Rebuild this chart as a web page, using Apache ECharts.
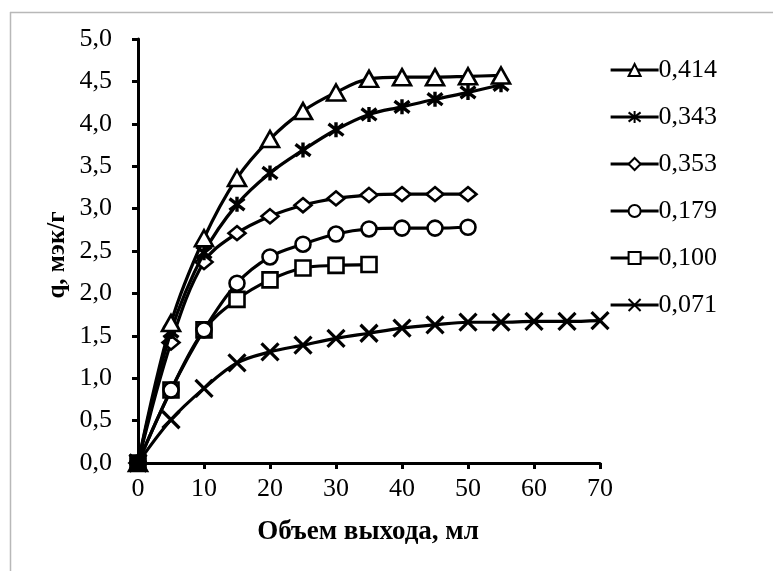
<!DOCTYPE html>
<html>
<head>
<meta charset="utf-8">
<script src="https://cdn.jsdelivr.net/npm/echarts@6/dist/echarts.min.js"></script>
<style>
html,body{margin:0;padding:0;background:#fff;}
#chart{width:773px;height:571px;}
</style>
</head>
<body>
<div id="chart"></div>
<script>
const xValues = [0,5,10,15,20,25,30,35,40,45,50,55,60,65,70];
const seriesNames = ['0,414','0,343','0,353','0,179','0,100','0,071'];
const s414 = [0,1.65,2.65,3.36,3.82,4.15,4.37,4.53,4.55,4.55,4.56,4.57];
const s343 = [0,1.55,2.48,3.05,3.42,3.69,3.93,4.11,4.20,4.29,4.37,4.46];
const s353 = [0,1.42,2.37,2.71,2.91,3.04,3.12,3.16,3.17,3.17,3.17];
const s179 = [0,0.86,1.57,2.12,2.43,2.58,2.70,2.76,2.77,2.77,2.78];
const s100 = [0,0.86,1.57,1.93,2.16,2.30,2.33,2.34];
const s071 = [0,0.51,0.88,1.18,1.31,1.39,1.47,1.53,1.59,1.63,1.66,1.66,1.67,1.67,1.68];
const xTitle = 'Объем выхода, мл';
const yTitle = 'q, мэк/г';

const FONT = "'Liberation Serif','Times New Roman',serif";
const xPath = 'path://M0 0L10 10M10 0L0 10';
const starPath = 'path://M0 0L10 10M10 0L0 10M5 -1.5L5 11.5';

const seriesData = [s414,s343,s353,s179,s100,s071];
const symbols = ['triangle', starPath, 'diamond', 'circle', 'rect', xPath];
const sizes = [[18,16],15,[17,14],15,[15,15],17];
const borderW = [2.6,3.4,2.6,2.6,2.6,3.2];

const series = seriesData.map((vals, i) => ({
  name: seriesNames[i],
  type: 'line',
  smooth: 0.35,
  data: vals.map((v, j) => j === 0
    ? { value: [xValues[j], v], itemStyle: { color: '#000' } }
    : [xValues[j], v]),
  symbol: symbols[i],
  symbolSize: sizes[i],
  showAllSymbol: true,
  lineStyle: { color: '#000', width: 3.2 },
  itemStyle: { color: '#fff', borderColor: '#000', borderWidth: borderW[i] },
  emphasis: { disabled: true },
  z: 10 - i
}));

const chart = echarts.init(document.getElementById('chart'), null, { renderer: 'canvas' });
chart.setOption({
  backgroundColor: '#fff',
  animation: false,
  grid: { left: 138, right: 173, top: 39, bottom: 108, containLabel: false },
  xAxis: {
    type: 'value', min: 0, max: 70, interval: 10,
    axisLine: { show: true, lineStyle: { color: '#000', width: 3 } },
    axisTick: { show: true, inside: false, length: 6, lineStyle: { color: '#000', width: 3 } },
    axisLabel: { color: '#000', fontFamily: FONT, fontSize: 26, margin: 13 },
    splitLine: { show: false }
  },
  yAxis: {
    type: 'value', min: 0, max: 5, interval: 0.5,
    axisLine: { show: true, lineStyle: { color: '#000', width: 3 } },
    axisTick: { show: true, inside: false, length: 6, lineStyle: { color: '#000', width: 3 } },
    axisLabel: { color: '#000', fontFamily: FONT, fontSize: 26, margin: 26,
      formatter: v => v.toFixed(1).replace('.', ',') },
    splitLine: { show: false }
  },
  legend: {
    orient: 'vertical',
    left: 604, top: 52,
    itemWidth: 48, itemHeight: 15, itemGap: 21,
    data: seriesNames,
    lineStyle: { color: '#000', width: 3.2 },
    textStyle: { color: '#000', fontFamily: FONT, fontSize: 26, lineHeight: 26, padding: [0,0,0,-5] },
    selectedMode: false
  },
  graphic: [
    { type: 'line', shape: { x1: 10, y1: 12.5, x2: 773, y2: 12.5 }, style: { stroke: '#b8b8b8', lineWidth: 1.5 } },
    { type: 'line', shape: { x1: 10.5, y1: 12, x2: 10.5, y2: 571 }, style: { stroke: '#b8b8b8', lineWidth: 1.5 } },
    { type: 'text', style: { text: xTitle, font: "bold 27px 'Liberation Serif', serif", fill: '#000', textAlign: 'center', textVerticalAlign: 'middle' }, position: [368, 532] },
    { type: 'text', style: { text: yTitle, font: "bold 25px 'Liberation Serif', serif", fill: '#000', textAlign: 'center', textVerticalAlign: 'middle' }, position: [58, 255], rotation: Math.PI / 2 }
  ],
  series: series
});
</script>
</body>
</html>
